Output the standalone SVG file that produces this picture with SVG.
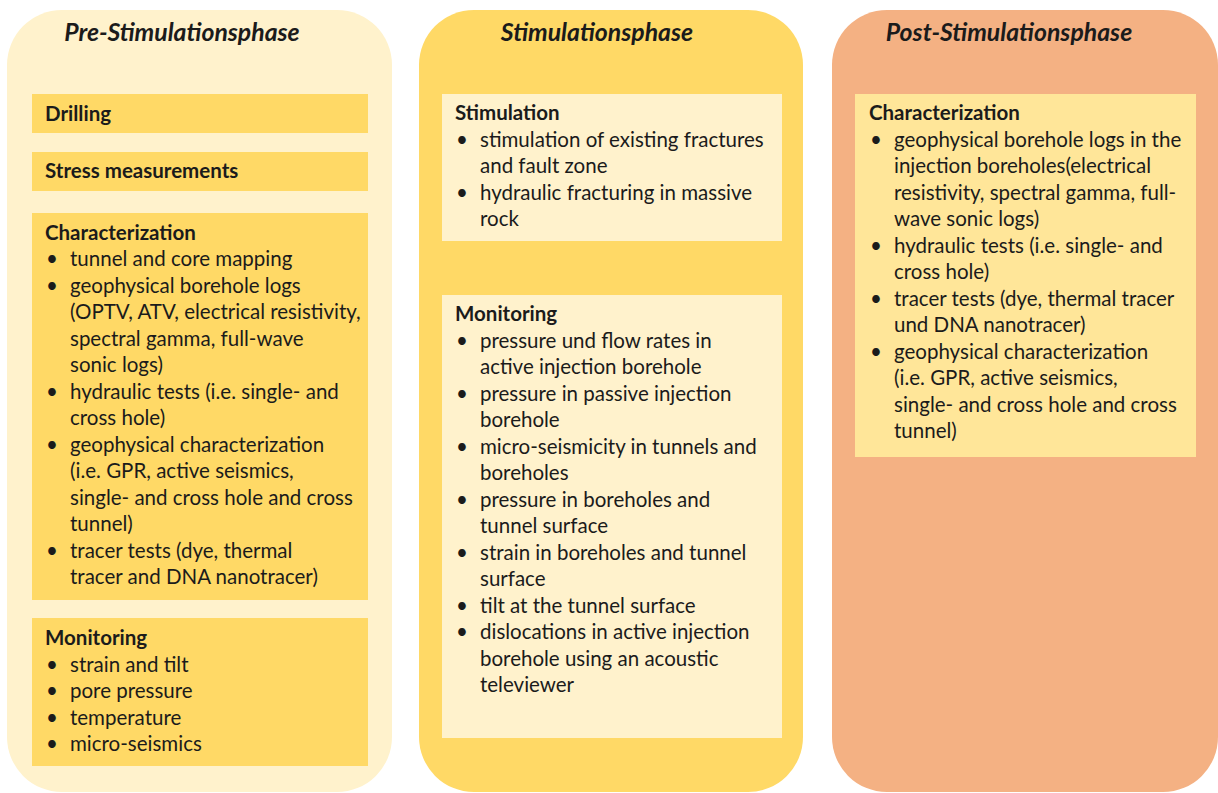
<svg xmlns="http://www.w3.org/2000/svg" width="1218" height="793" viewBox="0 0 1218 793">
<style>
text{font-family:Lato,"Liberation Sans",sans-serif;fill:#1b1b1b;font-size:20.5px}
.t{font-weight:bold;font-style:italic;font-size:24.8px;text-anchor:middle}
.h{font-weight:bold}
.light{fill:#FFF2CC}
.gold{fill:#FFD966}
.salmon{fill:#F4B183}
.pale{fill:#FFE699}
</style>
<rect width="1218" height="793" fill="#ffffff"/>
<g id="pre">
<rect class="light" x="7" y="10" width="385" height="782" rx="55"/>
<text class="t" x="182" y="41">Pre-Stimulationsphase</text>
<g id="drilling"><rect class="gold" x="32" y="94" width="336" height="39"/><text class="h" x="45" y="121">Drilling</text></g>
<g id="stress"><rect class="gold" x="32" y="152" width="336" height="39"/><text class="h" x="45" y="178">Stress measurements</text></g>
<g id="pre-char"><rect class="gold" x="32" y="213" width="336" height="387"/>
<text><tspan class="h" x="45" y="239.5">Characterization</tspan>
<tspan x="46" y="266">•</tspan><tspan x="70" y="266">tunnel and core mapping</tspan>
<tspan x="46" y="292.5">•</tspan><tspan x="70" y="292.5">geophysical borehole logs</tspan>
<tspan x="70" y="319">(OPTV, ATV, electrical resistivity,</tspan>
<tspan x="70" y="345.5">spectral gamma, full-wave</tspan>
<tspan x="70" y="372">sonic logs)</tspan>
<tspan x="46" y="398.5">•</tspan><tspan x="70" y="398.5">hydraulic tests (i.e. single- and</tspan>
<tspan x="70" y="425">cross hole)</tspan>
<tspan x="46" y="451.5">•</tspan><tspan x="70" y="451.5">geophysical characterization</tspan>
<tspan x="70" y="478">(i.e. GPR, active seismics,</tspan>
<tspan x="70" y="504.5">single- and cross hole and cross</tspan>
<tspan x="70" y="531">tunnel)</tspan>
<tspan x="46" y="557.5">•</tspan><tspan x="70" y="557.5">tracer tests (dye, thermal</tspan>
<tspan x="70" y="584">tracer and DNA nanotracer)</tspan></text></g>
<g id="pre-mon"><rect class="gold" x="32" y="618" width="336" height="148"/>
<text><tspan class="h" x="45" y="645">Monitoring</tspan>
<tspan x="46" y="671.5">•</tspan><tspan x="70" y="671.5">strain and tilt</tspan>
<tspan x="46" y="698">•</tspan><tspan x="70" y="698">pore pressure</tspan>
<tspan x="46" y="724.5">•</tspan><tspan x="70" y="724.5">temperature</tspan>
<tspan x="46" y="751">•</tspan><tspan x="70" y="751">micro-seismics</tspan></text></g>
</g>
<g id="stim">
<rect class="gold" x="419" y="10" width="384" height="782" rx="55"/>
<text class="t" x="597" y="41">Stimulationsphase</text>
<g id="stim-stim"><rect class="light" x="442" y="94" width="340" height="147"/>
<text><tspan class="h" x="455" y="120">Stimulation</tspan>
<tspan x="456" y="146.5">•</tspan><tspan x="480" y="146.5">stimulation of existing fractures</tspan>
<tspan x="480" y="173">and fault zone</tspan>
<tspan x="456" y="199.5">•</tspan><tspan x="480" y="199.5">hydraulic fracturing in massive</tspan>
<tspan x="480" y="226">rock</tspan></text></g>
<g id="stim-mon"><rect class="light" x="442" y="295" width="340" height="443"/>
<text><tspan class="h" x="455" y="321">Monitoring</tspan>
<tspan x="456" y="347.5">•</tspan><tspan x="480" y="347.5">pressure und flow rates in</tspan>
<tspan x="480" y="374">active injection borehole</tspan>
<tspan x="456" y="400.5">•</tspan><tspan x="480" y="400.5">pressure in passive injection</tspan>
<tspan x="480" y="427">borehole</tspan>
<tspan x="456" y="453.5">•</tspan><tspan x="480" y="453.5">micro-seismicity in tunnels and</tspan>
<tspan x="480" y="480">boreholes</tspan>
<tspan x="456" y="506.5">•</tspan><tspan x="480" y="506.5">pressure in boreholes and</tspan>
<tspan x="480" y="533">tunnel surface</tspan>
<tspan x="456" y="559.5">•</tspan><tspan x="480" y="559.5">strain in boreholes and tunnel</tspan>
<tspan x="480" y="586">surface</tspan>
<tspan x="456" y="612.5">•</tspan><tspan x="480" y="612.5">tilt at the tunnel surface</tspan>
<tspan x="456" y="639">•</tspan><tspan x="480" y="639">dislocations in active injection</tspan>
<tspan x="480" y="665.5">borehole using an acoustic</tspan>
<tspan x="480" y="692">televiewer</tspan></text></g>
</g>
<g id="post">
<rect class="salmon" x="832" y="10" width="386" height="782" rx="55"/>
<text class="t" x="1009" y="41">Post-Stimulationsphase</text>
<g id="post-char"><rect class="pale" x="855" y="94" width="341" height="363"/>
<text><tspan class="h" x="869" y="120">Characterization</tspan>
<tspan x="870" y="146.5">•</tspan><tspan x="894" y="146.5">geophysical borehole logs in the</tspan>
<tspan x="894" y="173">injection boreholes(electrical</tspan>
<tspan x="894" y="199.5">resistivity, spectral gamma, full-</tspan>
<tspan x="894" y="226">wave sonic logs)</tspan>
<tspan x="870" y="252.5">•</tspan><tspan x="894" y="252.5">hydraulic tests (i.e. single- and</tspan>
<tspan x="894" y="279">cross hole)</tspan>
<tspan x="870" y="305.5">•</tspan><tspan x="894" y="305.5">tracer tests (dye, thermal tracer</tspan>
<tspan x="894" y="332">und DNA nanotracer)</tspan>
<tspan x="870" y="358.5">•</tspan><tspan x="894" y="358.5">geophysical characterization</tspan>
<tspan x="894" y="385">(i.e. GPR, active seismics,</tspan>
<tspan x="894" y="411.5">single- and cross hole and cross</tspan>
<tspan x="894" y="438">tunnel)</tspan></text></g>
</g>
</svg>
